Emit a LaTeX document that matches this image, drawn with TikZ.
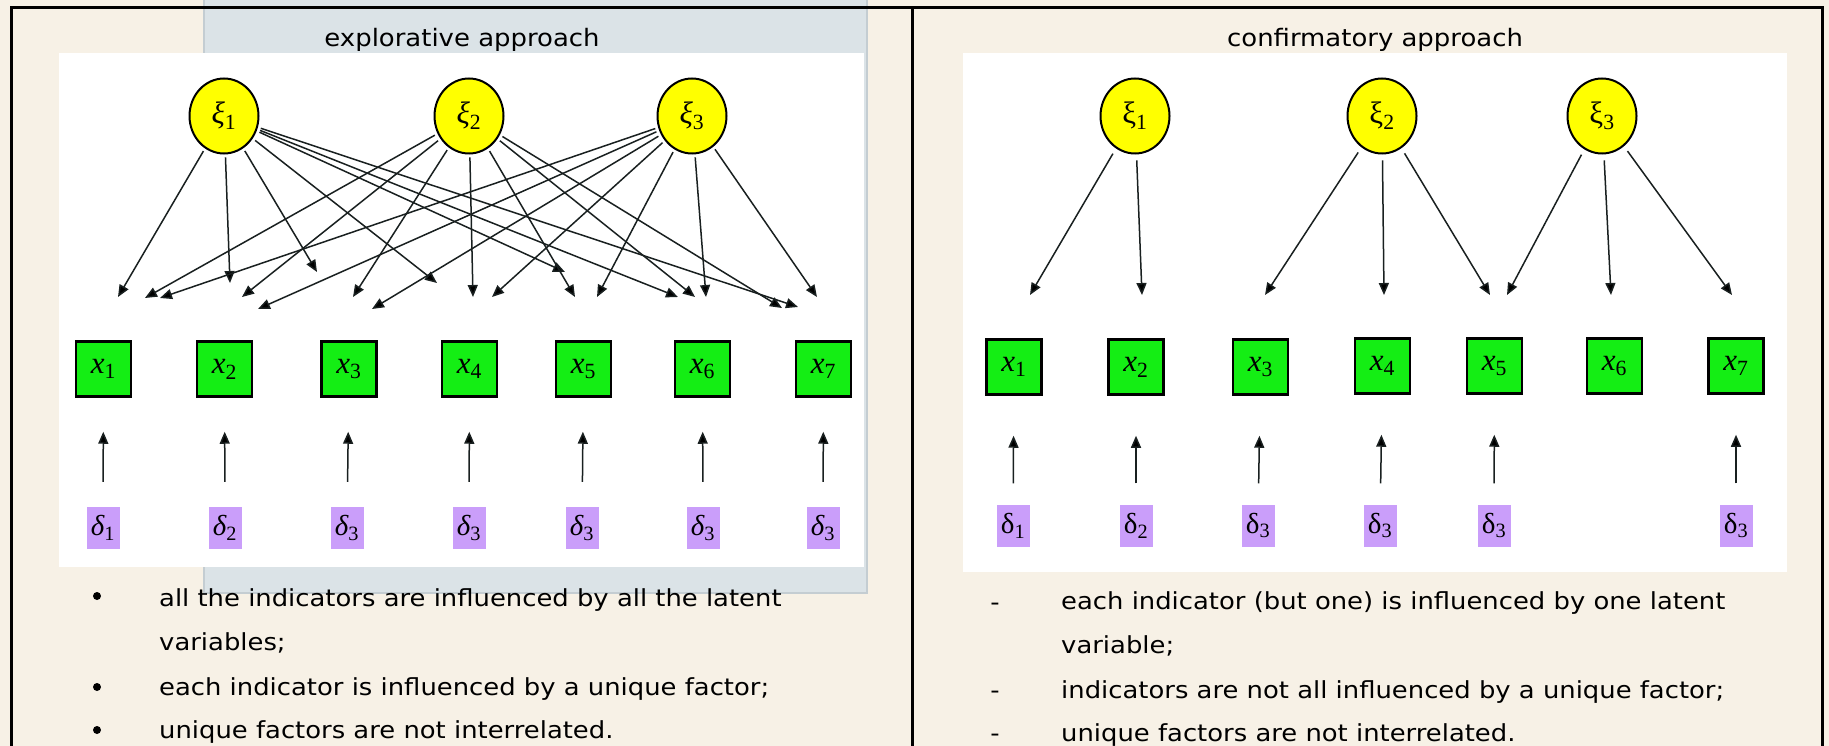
\documentclass[tikz,border=0pt]{standalone}
\usepackage[no-math]{fontspec}
\usepackage{amsmath}
\usetikzlibrary{arrows.meta,shapes.geometric}

\newfontfamily\slidefont{DejaVu Sans}[FakeStretch=1.1]
\newfontfamily\titlefont{DejaVu Sans}[FakeStretch=1.08]
\newfontfamily\symbfont{Liberation Serif}

% italic symbol with upright index, and upright symbol with upright index
\newcommand{\itsym}[2]{{\symbfont\itshape #1}{\symbfont\textsubscript{#2}}}
\newcommand{\upsym}[2]{{\symbfont #1\textsubscript{#2}}}

\definecolor{slidebeige}{RGB}{247,241,230}
\definecolor{slidegray}{RGB}{219,227,231}
\definecolor{slideedge}{RGB}{196,205,210}
\definecolor{latentyellow}{RGB}{255,255,0}
\definecolor{indgreen}{RGB}{20,238,20}
\definecolor{uniqlilac}{RGB}{202,158,250}
\definecolor{arrowdark}{RGB}{25,32,32}

\tikzset{
  latent/.style={ellipse, draw, line width=2pt, fill=latentyellow,
    minimum width=69pt, minimum height=75pt, inner sep=0pt,
    font=\fontsize{31}{31}\selectfont},
  indicator/.style={rectangle, draw, line width=2.5pt, fill=indgreen,
    minimum width=55pt, minimum height=55pt, inner sep=0pt,
    font=\fontsize{31}{31}\selectfont},
  uniq/.style={rectangle, fill=uniqlilac, minimum width=33pt,
    minimum height=42pt, inner sep=0pt, font=\fontsize{29}{29}\selectfont},
  load/.style={-{Triangle[length=12pt,width=10pt]}, line width=1.5pt,
    draw=arrowdark, shorten <=3pt},
  err/.style={-{Triangle[length=12pt,width=10pt]}, line width=1.5pt,
    draw=arrowdark},
  headline/.style={anchor=base, inner sep=0pt,
    font=\titlefont\fontsize{24}{24}\selectfont},
  bodytext/.style={anchor=base west, inner sep=0pt,
    font=\slidefont\fontsize{23.5}{23.5}\selectfont},
  bulletdot/.style={circle, fill=black, minimum size=8pt, inner sep=0pt},
  dashmark/.style={anchor=base, inner sep=0pt,
    font=\slidefont\fontsize{23.5}{23.5}\selectfont},
}

\begin{document}
\begin{tikzpicture}[x=1pt,y=-1pt]
    \useasboundingbox (0,0) rectangle (1829,746);

    % Background and slide pictures
    \fill[slidebeige] (0,0) rectangle (1829,746);
    \fill[slidegray, draw=slideedge, line width=2pt] (204,-5) rectangle (867,593);
    \fill[white] (59,53) rectangle (864,567);
    \fill[white] (963,53) rectangle (1787,572);

    % Table frame
    \draw[line width=3pt] (11,746) -- (11,7.5) -- (1822,7.5) -- (1822,746);
    \draw[line width=3pt] (912,7.5) -- (912,746);

    % Titles
    \node[headline] (ltitle) at (462,47) {explorative approach};
    \node[headline] (rtitle) at (1375,47) {confirmatory approach};

    % ---------------- explorative approach ----------------
    % Latent variables
    \node[latent] (lxi1) at (224,116) {\itsym{ξ}{1}};
    \node[latent] (lxi2) at (469,116) {\itsym{ξ}{2}};
    \node[latent] (lxi3) at (692,116) {\itsym{ξ}{3}};

    % Indicators
    \node[indicator] (lx1) at (103.5,369) {\itsym{x}{1}};
    \node[indicator] (lx2) at (224.5,369) {\itsym{x}{2}};
    \node[indicator] (lx3) at (349,369) {\itsym{x}{3}};
    \node[indicator] (lx4) at (469.5,369) {\itsym{x}{4}};
    \node[indicator] (lx5) at (583.5,369) {\itsym{x}{5}};
    \node[indicator] (lx6) at (702.5,369) {\itsym{x}{6}};
    \node[indicator] (lx7) at (823.5,369) {\itsym{x}{7}};

    % Unique factors
    \node[uniq] (ld1) at (103,528) {\itsym{δ}{1}};
    \node[uniq] (ld2) at (225,528) {\itsym{δ}{2}};
    \node[uniq] (ld3) at (347,528) {\itsym{δ}{3}};
    \node[uniq] (ld4) at (469,528) {\itsym{δ}{3}};
    \node[uniq] (ld5) at (582,528) {\itsym{δ}{3}};
    \node[uniq] (ld6) at (703,528) {\itsym{δ}{3}};
    \node[uniq] (ld7) at (823,528) {\itsym{δ}{3}};

    % Arrow ends of the loadings
    \coordinate (l11) at (118,297);
    \coordinate (l12) at (230,283);
    \coordinate (l13) at (317,272);
    \coordinate (l14) at (437,283);
    \coordinate (l15) at (565,272);
    \coordinate (l16) at (678,297);
    \coordinate (l17) at (798,307);
    \coordinate (l21) at (145,298);
    \coordinate (l22) at (242,297);
    \coordinate (l23) at (353,297);
    \coordinate (l24) at (473,297);
    \coordinate (l25) at (575,297);
    \coordinate (l26) at (695,297);
    \coordinate (l27) at (782,308);
    \coordinate (l31) at (160,298);
    \coordinate (l32) at (258,309);
    \coordinate (l33) at (372,309);
    \coordinate (l34) at (492,297);
    \coordinate (l35) at (597,297);
    \coordinate (l36) at (706,297);
    \coordinate (l37) at (817,297);

    % Draw loadings
    \path[load] (lxi1) edge (l11) edge (l12) edge (l13) edge (l14)
                       edge (l15) edge (l16) edge (l17);
    \path[load] (lxi2) edge (l21) edge (l22) edge (l23) edge (l24)
                       edge (l25) edge (l26) edge (l27);
    \path[load] (lxi3) edge (l31) edge (l32) edge (l33) edge (l34)
                       edge (l35) edge (l36) edge (l37);

    % Draw unique factor arrows
    \path[err, shorten <=25pt, shorten >=34pt]
      (ld1) edge (lx1) (ld2) edge (lx2) (ld3) edge (lx3) (ld4) edge (lx4)
      (ld5) edge (lx5) (ld6) edge (lx6) (ld7) edge (lx7);

    % Bullet list
    \node[bulletdot] (lbul1) at (97,596) {};
    \node[bulletdot] (lbul2) at (97,687) {};
    \node[bulletdot] (lbul3) at (97,730) {};
    \node[bodytext] (ltext1) at (159,606) {all the indicators are influenced by all the latent};
    \node[bodytext] (ltext2) at (159,650) {variables;};
    \node[bodytext] (ltext3) at (159,695) {each indicator is influenced by a unique factor;};
    \node[bodytext] (ltext4) at (159,738) {unique factors are not interrelated.};

    % ---------------- confirmatory approach ----------------
    % Latent variables
    \node[latent] (rxi1) at (1135,116) {\upsym{ξ}{1}};
    \node[latent] (rxi2) at (1382,116) {\upsym{ξ}{2}};
    \node[latent] (rxi3) at (1602,116) {\upsym{ξ}{3}};

    % Indicators
    \node[indicator] (rx1) at (1014,367) {\itsym{x}{1}};
    \node[indicator] (rx2) at (1136,367) {\itsym{x}{2}};
    \node[indicator] (rx3) at (1260.5,367) {\itsym{x}{3}};
    \node[indicator] (rx4) at (1382.5,366) {\itsym{x}{4}};
    \node[indicator] (rx5) at (1494.5,366) {\itsym{x}{5}};
    \node[indicator] (rx6) at (1614.5,366) {\itsym{x}{6}};
    \node[indicator] (rx7) at (1736,366) {\itsym{x}{7}};

    % Unique factors
    \node[uniq] (rd1) at (1013,525.5) {\upsym{δ}{1}};
    \node[uniq] (rd2) at (1136,525.5) {\upsym{δ}{2}};
    \node[uniq] (rd3) at (1258,525.5) {\upsym{δ}{3}};
    \node[uniq] (rd4) at (1380,525.5) {\upsym{δ}{3}};
    \node[uniq] (rd5) at (1494,525.5) {\upsym{δ}{3}};
    \node[uniq] (rd7) at (1736,525.5) {\upsym{δ}{3}};

    % Arrow ends of the loadings
    \coordinate (r11) at (1030,295);
    \coordinate (r12) at (1142,295);
    \coordinate (r23) at (1265,295);
    \coordinate (r24) at (1384,295);
    \coordinate (r25) at (1490,295);
    \coordinate (r35) at (1507,295);
    \coordinate (r36) at (1611,295);
    \coordinate (r37) at (1732,295);

    % Draw loadings
    \path[load, shorten <=6pt] (rxi1) edge (r11) edge (r12);
    \path[load, shorten <=6pt] (rxi2) edge (r23) edge (r24) edge (r25);
    \path[load, shorten <=6pt] (rxi3) edge (r35) edge (r36) edge (r37);

    % Draw unique factor arrows
    \path[err, shorten <=21pt, shorten >=40pt]
      (rd1) edge (rx1) (rd2) edge (rx2) (rd3) edge (rx3) (rd4) edge (rx4)
      (rd5) edge (rx5) (rd7) edge (rx7);

    % Dash list
    \node[dashmark] (rdash1) at (995,610) {-};
    \node[dashmark] (rdash2) at (995,698) {-};
    \node[dashmark] (rdash3) at (995,741) {-};
    \node[bodytext] (rtext1) at (1061,609) {each indicator (but one) is influenced by one latent};
    \node[bodytext] (rtext2) at (1061,653) {variable;};
    \node[bodytext] (rtext3) at (1061,698) {indicators are not all influenced by a unique factor;};
    \node[bodytext] (rtext4) at (1061,741) {unique factors are not interrelated.};
\end{tikzpicture}
\end{document}
